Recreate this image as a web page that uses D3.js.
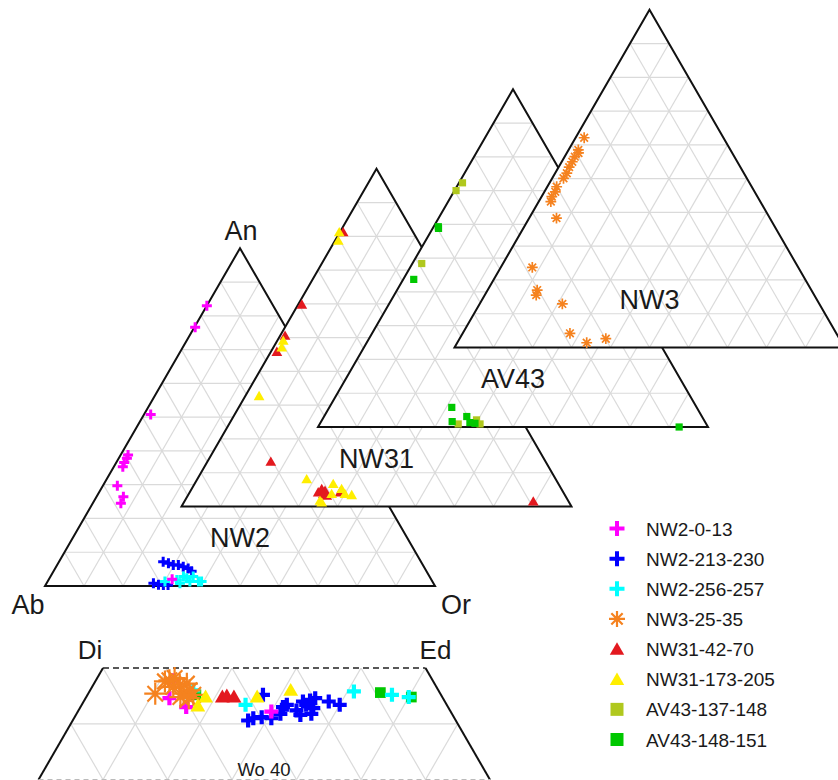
<!DOCTYPE html>
<html>
<head>
<meta charset="utf-8">
<script src="https://cdn.jsdelivr.net/npm/d3@7/dist/d3.min.js"></script>
<style>
  body { margin: 0; background: #fff; }
  svg { display: block; }
  text { font-family: "Liberation Sans", Arial, sans-serif; fill: #1a1a1a; }
</style>
</head>
<body>
<svg id="chart" width="838" height="780"></svg>
<script>
// ---- Series (legend order) ----
const seriesNames  = ["NW2-0-13", "NW2-213-230", "NW2-256-257", "NW3-25-35",
                      "NW31-42-70", "NW31-173-205", "AV43-137-148", "AV43-148-151"];
const seriesColors = ["#ff00ff", "#0000ff", "#00ffff", "#f5821f",
                      "#e3191f", "#ffee00", "#b0c81e", "#00c800"];
const seriesShapes = ["plus", "plus", "plus", "asterisk",
                      "triangle", "triangle", "square", "square"];

// ---- Feldspar compositions, [An, Or] mol % (Ab = 100 - An - Or) ----
const fspNW2_0_13 = [[83.0,0.0],[76.6,0.2],[50.8,1.7],[38.8,1.9],[37.8,2.1],[36.6,2.0],[35.3,2.3],
                     [29.7,3.7],[26.4,6.9],[24.5,7.2],[2.0,31.6]];
const fspNW2_213_230 = [[7.2,26.7],[6.7,28.3],[6.2,29.8],[6.2,31.1],[5.7,32.6],[5.2,34.1],[4.4,35.4],
                        [0.8,27.4],[0.4,28.9],[0.3,30.2],[0.3,31.4]];
const fspNW2_256_257 = [[1.3,30.1],[1.8,32.9],[0.8,34.2],[2.3,35.2],[1.3,36.5],[2.8,36.6],[1.3,38.7],
                        [1.3,39.5],[2.8,34.1]];
const fspNW31_42_70 = [[80.9,1.0],[59.5,1.1],[50.3,1.4],[45.5,1.7],[13.0,16.4],[3.9,33.1],[4.9,33.5],
                       [4.4,34.6],[3.4,34.7],[2.9,35.8],[3.9,38.7],[1.2,89.6]];
const fspNW31_173_205 = [[80.9,0.0],[78.4,1.0],[48.8,1.7],[46.8,2.3],[32.4,3.7],[7.8,28.2],[6.4,35.7],
                         [4.9,38.6],[3.4,40.2],[3.1,42.1],[3.4,36.8],[0.9,35.5],[1.4,34.8]];
const fspAV43_137_148 = [[72.3,0.9],[70.0,0.4],[48.4,2.4],[0.9,35.5],[2.1,39.6],[0.9,41.1]];
const fspAV43_148_151 = [[59.3,1.2],[58.8,1.5],[43.7,2.7],[5.8,31.4],[1.6,33.6],[3.1,36.6],[1.3,38.3],
                         [1.1,39.7],[0.0,92.6]];
const fspNW3_25_35 = [[62.1,2.2],[58.5,2.5],[57.6,3.0],[56.5,2.6],[55.0,2.7],[53.4,2.7],[51.6,3.0],
                      [50.1,2.9],[47.6,2.4],[46.1,2.8],[44.7,2.6],[43.2,3.1],[38.3,7.0],[23.7,8.1],
                      [17.0,12.7],[15.5,13.2],[12.9,21.2],[4.2,27.5],[1.4,33.2],[2.6,37.5]];

// ---- Pyroxene compositions, [Wo, Fs] mol % ----
const pxNW2_0_13 = [[47.3,6.5],[46.5,8.2],[48.9,6.0],[46.1,15.0]];
const pxNW2_213_230 = [[47.6,13.6],[45.3,13.6],[45.5,13.9],[45.6,14.5],[45.5,15.3],[45.9,15.8],
                       [46.7,15.9],[46.2,16.9],[47.0,17.0],[46.7,17.4],[47.1,17.5],[46.4,18.1],
                       [45.9,18.2],[47.3,17.8],[45.8,17.4],[47.0,19.0],[46.7,20.0],[46.5,15.7]];
const pxNW2_256_257 = [[48.0,8.0],[46.7,12.7],[47.9,20.5],[47.6,23.6],[47.4,25.0]];
const pxNW3_25_35 = [[47.7,5.2],[48.8,5.4],[48.9,5.7],[49.1,6.0],[48.3,6.3],[48.5,6.7],[48.6,7.2],
                     [47.7,7.4],[48.0,7.7],[47.4,7.3],[47.3,8.0],[47.6,8.2]];
const pxNW31_42_70 = [[47.3,10.6],[47.4,10.9],[47.3,11.5]];
const pxNW31_173_205 = [[47.3,9.3],[46.5,9.1],[47.3,13.3],[47.9,15.6]];
const pxAV43_148_151 = [[47.6,8.4],[47.8,22.6],[47.4,25.2]];

// ---- Panel / vertex labels ----
const panelNames = ["NW2", "NW31", "AV43", "NW3"];
const fspVertexLabels = ["An", "Ab", "Or"];
const pxCornerLabels = ["Di", "Ed"];
const pxWoLabel = "Wo 40";

// feldspar panels, back to front
const panels = [
  { name: panelNames[0], series: [[1, fspNW2_213_230], [2, fspNW2_256_257], [0, fspNW2_0_13]] },
  { name: panelNames[1], series: [[4, fspNW31_42_70], [5, fspNW31_173_205]] },
  { name: panelNames[2], series: [[6, fspAV43_137_148], [7, fspAV43_148_151]] },
  { name: panelNames[3], series: [[3, fspNW3_25_35]] }
];
const pxSeries = [[7, pxAV43_148_151], [1, pxNW2_213_230], [2, pxNW2_256_257], [0, pxNW2_0_13],
                  [3, pxNW3_25_35], [4, pxNW31_42_70], [5, pxNW31_173_205]];

const svg = d3.select("#chart");
const GRID = "#dadada";

// ---- marker drawing ----
function marker(g, shape, color, opt) {
  if (shape === "plus") {
    const r = opt.plusR;
    g.append("path").attr("d", `M${-r},0H${r}M0,${-r}V${r}`)
      .attr("stroke", color).attr("stroke-width", opt.plusW).attr("fill", "none");
  } else if (shape === "asterisk") {
    const r = opt.astR, q = r * Math.SQRT1_2;
    g.append("path")
      .attr("d", `M${-r},0H${r}M0,${-r}V${r}M${-q},${-q}L${q},${q}M${-q},${q}L${q},${-q}`)
      .attr("stroke", color).attr("stroke-width", opt.astW).attr("fill", "none");
  } else if (shape === "triangle") {
    g.append("path").attr("d", d3.symbol(d3.symbolTriangle, opt.triA)()).attr("fill", color);
  } else {
    g.append("path").attr("d", d3.symbol(d3.symbolSquare, opt.sqA)()).attr("fill", color);
  }
}

// ---- feldspar ternary panels ----
const side = 390, triH = side * Math.sqrt(3) / 2;
const fspOpt = { plusR: 5, plusW: 3, astR: 5.4, astW: 1.7, triA: 50, sqA: 52 };

panels.forEach((p, i) => {
  const left = 45 + i * 136.5, base = 586 - i * 79.5;
  const xs = d3.scaleLinear().domain([0, 100]).range([left, left + side]);
  const ys = d3.scaleLinear().domain([0, 100]).range([base, base - triH]);
  const pt = (an, or) => [xs(or + an / 2), ys(an)];
  const g = svg.append("g");
  const corners = [pt(100, 0), pt(0, 0), pt(0, 100)];
  const line = d3.line();

  g.append("path").attr("d", line(corners) + "Z").attr("fill", "#fff");
  const grid = g.append("g").attr("stroke", GRID).attr("stroke-width", 1.2).attr("fill", "none");
  d3.range(10, 100, 10).forEach(k => {
    grid.append("path").attr("d", line([pt(k, 0), pt(k, 100 - k)]));          // An = k
    grid.append("path").attr("d", line([pt(0, k), pt(100 - k, k)]));          // Or = k
    grid.append("path").attr("d", line([pt(100 - k, 0), pt(0, 100 - k)]));    // Ab = k
  });
  g.append("path").attr("d", line(corners) + "Z")
    .attr("fill", "none").attr("stroke", "#111").attr("stroke-width", 2);

  p.series.forEach(([si, data]) => {
    data.forEach(([an, or]) => {
      const [x, y] = pt(an, or);
      marker(g.append("g").attr("transform", `translate(${x},${y})`),
             seriesShapes[si], seriesColors[si], fspOpt);
    });
  });

  g.append("text").attr("x", xs(50)).attr("y", base - 39)
    .attr("text-anchor", "middle").attr("font-size", 27).text(p.name);

  if (i === 0) {
    g.append("text").attr("x", xs(50) + 1).attr("y", ys(100) - 8)
      .attr("text-anchor", "middle").attr("font-size", 27).text(fspVertexLabels[0]);
    g.append("text").attr("x", xs(0) - 17).attr("y", base + 28)
      .attr("text-anchor", "middle").attr("font-size", 27).text(fspVertexLabels[1]);
    g.append("text").attr("x", xs(100) + 21).attr("y", base + 28)
      .attr("text-anchor", "middle").attr("font-size", 27).text(fspVertexLabels[2]);
  }
});

// ---- pyroxene quadrilateral (upper band, Wo 50 to Wo 40) ----
const pxSide = 1290, pxH = pxSide * Math.sqrt(3) / 2;
const pxX = d3.scaleLinear().domain([0, 100]).range([103 - 0.25 * pxSide, 103 + 0.75 * pxSide]);
const pxY = d3.scaleLinear().domain([50, 40]).range([668, 668 + 0.1 * pxH]);
const pp = (wo, fs) => [pxX(fs + wo / 2), pxY(wo)];
const pxg = svg.append("g");
const quad = [pp(50, 0), pp(50, 25), pp(40, 35), pp(40, 0)];
const line = d3.line();

pxg.append("clipPath").attr("id", "pxclip").append("path").attr("d", line(quad) + "Z");
const pgrid = pxg.append("g").attr("clip-path", "url(#pxclip)")
  .attr("stroke", GRID).attr("stroke-width", 1.2).attr("fill", "none");
pgrid.append("path").attr("d", line([pp(45, 0), pp(45, 30)]));
d3.range(5, 40, 5).forEach(fs => {
  pgrid.append("path").attr("d", line([pp(52, fs), pp(38, fs)]));                 // Fs constant
});
d3.range(30, 65, 5).forEach(en => {
  pgrid.append("path").attr("d", line([pp(52, 100 - 52 - en), pp(38, 100 - 38 - en)])); // En constant
});

pxg.append("path").attr("d", line([quad[0], quad[3]]))
  .attr("stroke", "#111").attr("stroke-width", 2).attr("fill", "none");
pxg.append("path").attr("d", line([quad[1], quad[2]]))
  .attr("stroke", "#111").attr("stroke-width", 2).attr("fill", "none");
pxg.append("path").attr("d", line([quad[0], quad[1]]))
  .attr("stroke", "#222").attr("stroke-width", 1.3).attr("stroke-dasharray", "6,4").attr("fill", "none");
pxg.append("path").attr("d", line([quad[3], quad[2]]))
  .attr("stroke", "#bbb").attr("stroke-width", 1.3).attr("stroke-dasharray", "5,4").attr("fill", "none");

const pxOpt = { plusR: 7, plusW: 4.2, astR: 11, astW: 2.2, triA: 95, sqA: 115 };
pxSeries.forEach(([si, data]) => {
  data.forEach(([wo, fs]) => {
    const [x, y] = pp(wo, fs);
    marker(pxg.append("g").attr("transform", `translate(${x},${y})`),
           seriesShapes[si], seriesColors[si], pxOpt);
  });
});

pxg.append("text").attr("x", quad[0][0] - 13).attr("y", 659)
  .attr("text-anchor", "middle").attr("font-size", 26).text(pxCornerLabels[0]);
pxg.append("text").attr("x", quad[1][0] + 10).attr("y", 659)
  .attr("text-anchor", "middle").attr("font-size", 26).text(pxCornerLabels[1]);
pxg.append("text").attr("x", 264).attr("y", 776)
  .attr("text-anchor", "middle").attr("font-size", 18.5).text(pxWoLabel);

// ---- legend ----
const legOpt = { plusR: 7.5, plusW: 4, astR: 8, astW: 2.2, triA: 90, sqA: 169 };
const leg = svg.append("g");
const legY = d3.scalePoint().domain(seriesNames).range([528.5, 739.5]);
seriesNames.forEach((name, i) => {
  const row = leg.append("g").attr("transform", `translate(617,${legY(name)})`);
  marker(row.append("g").attr("transform", i >= 4 && i <= 5 ? "translate(0,1.5)" : null),
         seriesShapes[i], seriesColors[i], legOpt);
  row.append("text").attr("x", 29).attr("y", 7).attr("font-size", 19).text(name);
});
</script>
</body>
</html>
